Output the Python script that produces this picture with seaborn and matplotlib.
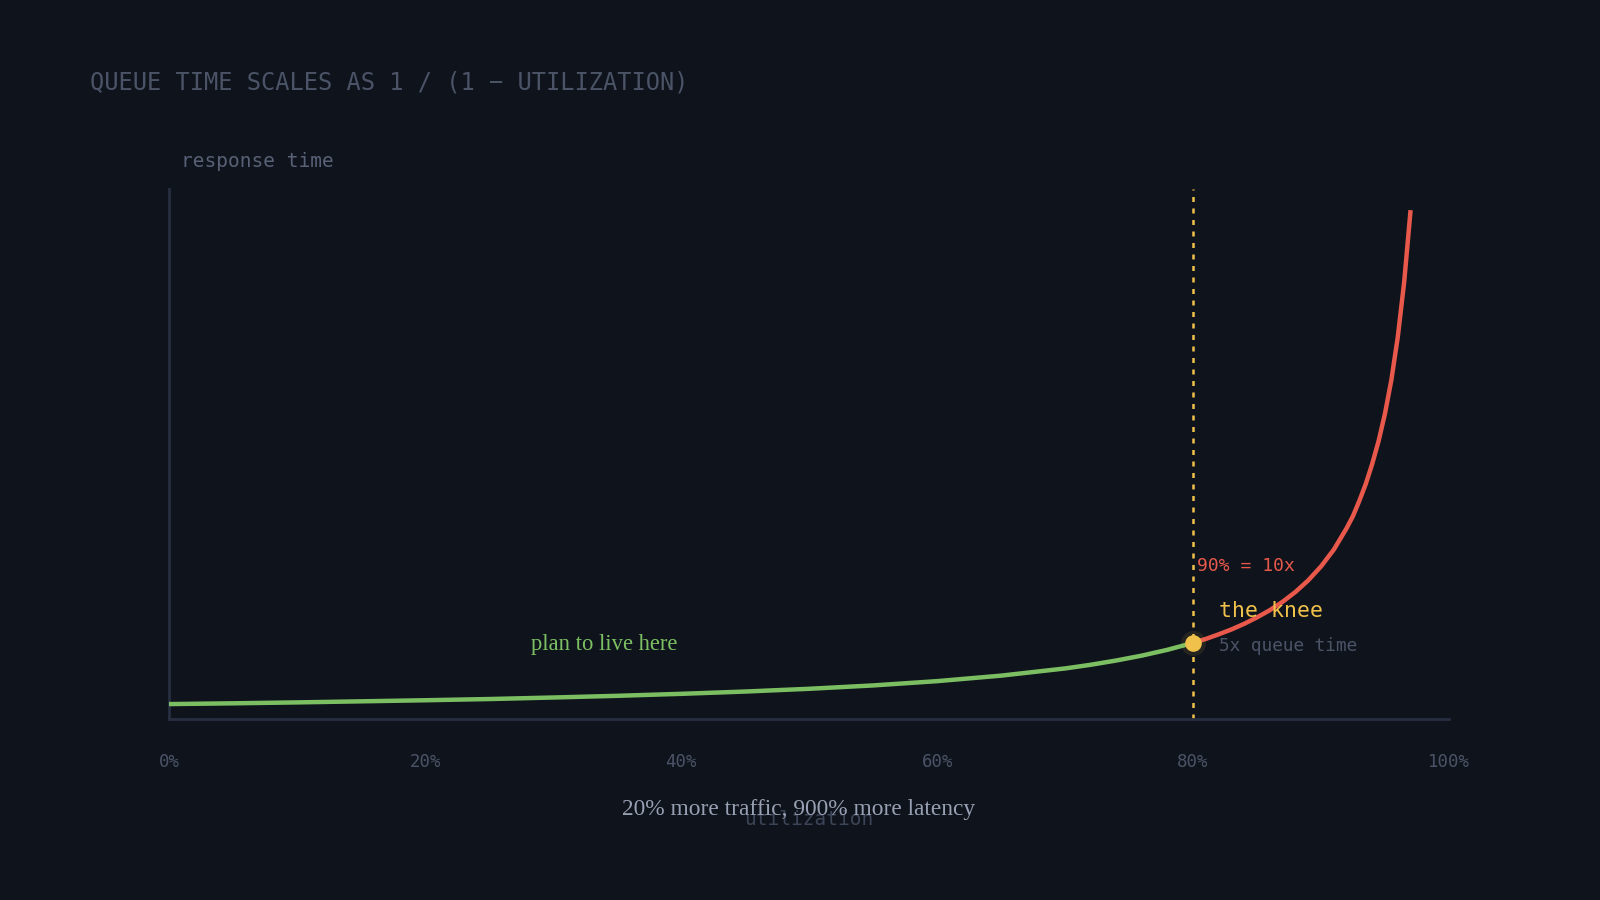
import matplotlib
matplotlib.use("Agg")
import matplotlib.pyplot as plt
import seaborn as sns
import pandas as pd

# ---- data ----
util_safe = [0.0, 0.05, 0.10, 0.15, 0.20, 0.25, 0.30, 0.35, 0.40, 0.45, 0.50,
             0.55, 0.60, 0.65, 0.70, 0.72, 0.74, 0.76, 0.78, 0.80]
resp_safe = [1.00, 1.05, 1.11, 1.18, 1.25, 1.33, 1.43, 1.54, 1.67, 1.82, 2.00,
             2.22, 2.50, 2.86, 3.33, 3.57, 3.85, 4.17, 4.55, 5.00]
util_hot = [0.80, 0.81, 0.82, 0.83, 0.84, 0.85, 0.86, 0.87, 0.88, 0.89, 0.90,
            0.91, 0.92, 0.925, 0.93, 0.935, 0.94, 0.945, 0.95, 0.955, 0.96,
            0.965, 0.97]
resp_hot = [5.00, 5.26, 5.56, 5.88, 6.25, 6.67, 7.14, 7.69, 8.33, 9.09, 10.0,
            11.1, 12.5, 13.3, 14.3, 15.4, 16.7, 18.2, 20.0, 22.2, 25.0,
            28.6, 33.3]
x_ticks = [0.0, 0.2, 0.4, 0.6, 0.8, 1.0]
x_tick_labels = ["0%", "20%", "40%", "60%", "80%", "100%"]
knee_util = 0.80
knee_resp = 5.0

title = "QUEUE TIME SCALES AS 1 / (1 − UTILIZATION)"
subtitle = "20% more traffic, 900% more latency"

# ---- style ----
BG = "#0f131c"
SPINE = "#262e40"
MUTED = "#4b5467"
GREEN = "#7bbf62"
RED = "#e8594b"
YELLOW = "#f0c14b"
SUB = "#98a1b3"

sns.set_theme(style="dark")
plt.rcParams["font.family"] = ["DejaVu Sans Mono", "DejaVu Sans"]

fig = plt.figure(figsize=(16, 9), dpi=100, facecolor=BG)
ax = fig.add_axes([0.1059, 0.2007, 0.7997, 0.5896])
ax.set_facecolor(BG)

df_safe = pd.DataFrame({"util": util_safe, "resp": resp_safe})
df_hot = pd.DataFrame({"util": util_hot, "resp": resp_hot})

sns.lineplot(data=df_safe, x="util", y="resp", ax=ax, color=GREEN, lw=3.2,
             solid_capstyle="round", zorder=3)
sns.lineplot(data=df_hot, x="util", y="resp", ax=ax, color=RED, lw=3.2,
             solid_capstyle="butt", zorder=3)

ax.axvline(knee_util, color=YELLOW, lw=1.8, dashes=(2, 2.6), zorder=2)

# knee dot with glow
ax.plot([knee_util], [knee_resp], "o", ms=18, color=YELLOW, alpha=0.10,
        mec="none", zorder=4)
ax.plot([knee_util], [knee_resp], "o", ms=12, color=YELLOW, mec="none", zorder=5)

ax.set_xlim(0, 1)
ax.set_ylim(0, 34.7)
ax.set_xticks(x_ticks)
ax.set_xticklabels(x_tick_labels)
ax.set_yticks([])
ax.tick_params(axis="x", length=0, pad=24, labelsize=12.5, labelcolor=MUTED)
ax.grid(False)

for side in ["top", "right"]:
    ax.spines[side].set_visible(False)
for side in ["left", "bottom"]:
    ax.spines[side].set_visible(True)
    ax.spines[side].set_color(SPINE)
    ax.spines[side].set_linewidth(2)

ax.set_xlabel("utilization", color="#3c4557", fontsize=14, labelpad=28)
ax.set_ylabel("")

# annotations
ax.text(0.803, 10.0, "90% = 10x", color=RED, fontsize=13, ha="left",
        va="center", zorder=6)
ax.text(0.82, 7.1, "the knee", color=YELLOW, fontsize=15.5, ha="left",
        va="center", zorder=6)
ax.text(0.82, 4.8, "5x queue time", color=MUTED, fontsize=12.8, ha="left",
        va="center", zorder=6)
ax.text(0.34, 4.9, "plan to live here", color=GREEN, fontsize=16.3,
        family=["Liberation Serif", "DejaVu Serif"], ha="center", va="center",
        zorder=6)

fig.text(0.0561, 0.908, title, color=MUTED, fontsize=17, ha="left", va="center")
fig.text(0.1129, 0.821, "response time", color="#586176", fontsize=14,
         ha="left", va="center")
fig.text(0.4994, 0.101, subtitle, color=SUB, fontsize=16.8,
         family=["Liberation Serif", "DejaVu Serif"], ha="center", va="center")

fig.savefig("out.png", dpi=100, facecolor=BG)
